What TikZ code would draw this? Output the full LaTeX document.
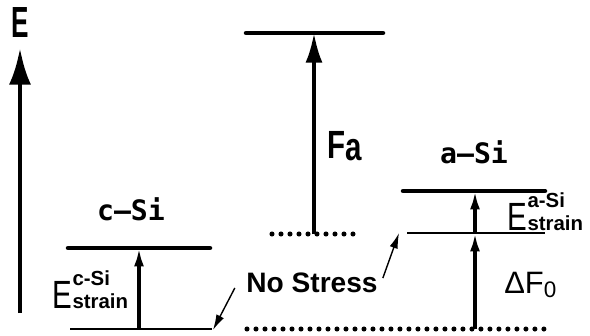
\documentclass[tikz,border=0pt]{standalone}
\usepackage{fontspec}
\setmainfont{Liberation Sans}
\newfontfamily\cellfont{DejaVu Sans Mono}
\newfontfamily\narrowfont{Liberation Sans}[FakeStretch=0.6]
\newfontfamily\strainEfont{Liberation Sans}[FakeStretch=0.75]
\usepackage{tikz}
\usetikzlibrary{arrows.meta, positioning, calc}

\begin{document}
\begin{tikzpicture}[x=0.25mm,y=-0.25mm,
    level/.style={line width=3.2pt, line cap=round},
    thinlevel/.style={line width=1.5pt},
    dotlevel/.style={line width=3.6pt, line cap=round, dash pattern=on 0pt off 6.4pt},
    bigarrow/.style={line width=3.5pt, -{Latex[length=26pt,width=15.6pt]}},
    midarrow/.style={line width=2.5pt, -{Latex[length=21pt,width=12pt]}},
    smallarrow/.style={line width=2.4pt, -{Latex[length=13pt,width=7pt]}},
    pointer/.style={line width=1pt, -{Latex[length=11pt,width=6pt]}},
    phase/.style={font=\cellfont\bfseries\fontsize{20pt}{22pt}\selectfont, inner sep=0pt},
    strainE/.style={font=\strainEfont\fontsize{28pt}{30pt}\selectfont, inner sep=0pt},
    strainlbl/.style={font=\bfseries\fontsize{14.5pt}{16pt}\selectfont, inner sep=0pt}]
        \useasboundingbox (0,0) rectangle (590,335);
        % energy axis
        \coordinate (axisbot) at (20,313);
        \coordinate (axistop) at (20,48);
        \draw[bigarrow] (axisbot) -- (axistop);
        \node[font=\narrowfont\bfseries\fontsize{31pt}{34pt}\selectfont, inner sep=0pt, anchor=base] (elabel) at (20,37) {E};
        % c-Si (left)
        \coordinate (cbase) at (139,329);
        \coordinate (ctop) at (139,248);
        \draw[level] (68,248) -- (210,248);
        \draw[thinlevel] (70,329) -- (212,329);
        \draw[smallarrow] (cbase) -- (ctop);
        \node[phase, anchor=base] (clabel) at (131,220) {c–Si};
        \node[strainE, anchor=base west] (cE) at (52,308) {E};
        \node[strainlbl, anchor=base west] (cSub) at (cE.base east) {strain};
        \node[strainlbl, anchor=base west] (cSup) at ([yshift=16pt]cE.base east) {c-Si};
        % activation (middle)
        \coordinate (fbase) at (314,234);
        \coordinate (ftop) at (314,33);
        \draw[level] (246,33) -- (383,33);
        \draw[dotlevel] (272,234) -- (353,234);
        \draw[midarrow] (fbase) -- (ftop);
        \node[font=\strainEfont\bfseries\fontsize{28pt}{30pt}\selectfont, inner sep=0pt, anchor=base west] (flabel) at (327,158) {F\raisebox{-2pt}{a}};
        % a-Si (right)
        \coordinate (abase) at (475,329);
        \coordinate (amid) at (475,233);
        \coordinate (atop) at (475,191);
        \draw[level] (403,191) -- (545,191);
        \draw[thinlevel] (407,233) -- (545,233);
        \draw[smallarrow] (abase) -- (amid);
        \draw[smallarrow] (amid) -- (atop);
        \node[phase, anchor=base] (alabel) at (474,163) {a–Si};
        \node[strainE, anchor=base west] (aE) at (507,230) {E};
        \node[strainlbl, anchor=base west] (aSub) at (aE.base east) {strain};
        \node[strainlbl, anchor=base west] (aSup) at ([yshift=16pt]aE.base east) {a-Si};
        \node[font=\fontsize{22pt}{24pt}\selectfont, inner sep=0pt, anchor=base west] (dflabel) at (504,293) {ΔF\raisebox{-3pt}{\fontsize{16pt}{17pt}\selectfont 0}};
        % no stress reference
        \draw[dotlevel] (247,329) -- (545,329);
        \node[font=\bfseries\fontsize{20pt}{22pt}\selectfont, inner sep=0pt] (nostress) at (312,283) {No Stress};
        \coordinate (nsl) at ([shift={(-8pt,-3.5pt)}]nostress.west);
        \coordinate (nsr) at ([shift={(3.5pt,3.5pt)}]nostress.east);
        \coordinate (cpoint) at (213,330);
        \coordinate (apoint) at (399,233);
        \draw[pointer] (nsl) -- (cpoint);
        \draw[pointer] (nsr) -- (apoint);
      \end{tikzpicture}
\end{document}
